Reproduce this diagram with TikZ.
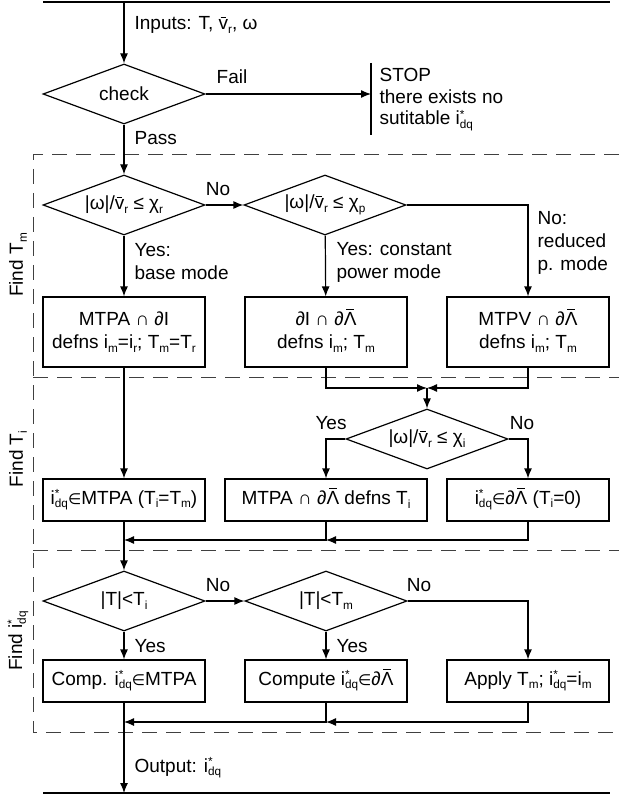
\documentclass[tikz,border=0pt]{standalone}
\usepackage{fontspec}
\usepackage{graphicx}
\setmainfont{Liberation Sans}
\newfontfamily\djv{DejaVu Sans}
\usetikzlibrary{shapes.geometric,arrows.meta}
\newcommand\sbs[1]{\raisebox{-0.2em}{\scalebox{0.62}{#1}}}
\newcommand\idq{i\rlap{\raisebox{0.34em}{\scalebox{0.62}{*}}}\sbs{dq}}
\newcommand\ein{{\djv\scalebox{0.8}{∈}}}
\newcommand\vbar{\leavevmode\hbox{\ooalign{v\cr\hidewidth\rule[0.63em]{0.3em}{0.055em}\hidewidth\cr}}}
\newcommand\Lbar{\leavevmode\hbox{\ooalign{Λ\cr\hidewidth\rule[0.82em]{0.4em}{0.055em}\hidewidth\cr}}}
\newcommand\cond[1]{|ω|/\vbar\sbs{r} ≤ χ\sbs{#1}}
\newcommand\F{\fontsize{19}{23}\selectfont}
\begin{document}
\begin{tikzpicture}[x=1pt,y=-1pt,line width=1.2pt,
  arr/.style={-{Latex[length=10pt,width=8pt]}},
  dia/.style={draw,diamond,minimum width=162pt,minimum height=60pt,inner sep=0pt,aspect=2.7,font=\F},
  box/.style={draw,rectangle,minimum width=162pt,minimum height=42pt,inner sep=1pt,align=center,font=\F},
  lbl/.style={inner sep=0pt,font=\F},
  dsh/.style={line width=1pt,draw=black!75,dash pattern=on 15pt off 9pt}]
\useasboundingbox (0,0) rectangle (619,799);
% top / bottom rails
\coordinate (tl) at (43,2); \coordinate (tr) at (610,2); \coordinate (top) at (124,2);
\coordinate (bl) at (43,793); \coordinate (br) at (610,793); \coordinate (bot) at (124,793);
\draw (tl) -- (tr);
\draw (bl) -- (br);
% dashed frames
\draw[dsh] (619,155) -- (33,155) -- (33,732) -- (619,732);
\draw[dsh] (33,377) -- (619,377);
\draw[dsh] (33,550) -- (619,550);
% check
\node[dia] (chk) at (124,94) {check};
\draw[arr] (top) -- (chk);
\node[lbl,anchor=west] (inp) at (134,25) {Inputs: T, \vbar\sbs{r}, ω};
\coordinate (s1) at (371,63); \coordinate (s2) at (371,135);
\draw (s1) -- (s2);
\draw[arr] (chk.east) -- (chk.east -| s1);
\node[lbl] (fail) at (232,77) {Fail};
\node[lbl,anchor=north west,align=left,font=\fontsize{19}{21.5}\selectfont] (stop) at (379,68) {STOP\\there exists no\\sutitable \idq};
\node[lbl,anchor=west] (pass) at (134,138) {Pass};
% Find labels
\node[lbl,rotate=90] (f1) at (18,265) {Find T\sbs{m}};
\node[lbl,rotate=90] (f2) at (18,459) {Find T\sbs{i}};
\node[lbl,rotate=90] (f3) at (18,641) {Find \idq};
% row 1
\node[dia] (d1) at (124,205) {\cond{r}};
\node[dia] (d2) at (325,205) {\cond{p}};
\draw[arr] (chk) -- (d1);
\draw[arr] (d1) -- (d2);
\node[lbl] (no1) at (218,189) {No};
\node[box,minimum height=70pt] (b1) at (124,332) {MTPA ∩ ∂I\\defns i\sbs{m}=i\sbs{r}; T\sbs{m}=T\sbs{r}};
\node[box,minimum height=70pt] (b2) at (326,332) {∂I ∩ ∂\Lbar\\defns i\sbs{m}; T\sbs{m}};
\node[box,minimum height=70pt] (b3) at (528,332) {MTPV ∩ ∂\Lbar\\defns i\sbs{m}; T\sbs{m}};
\draw[arr] (d1) -- (b1);
\draw[arr] (d2) -- (b2);
\draw[arr] (d2.east) -| (b3.north);
\node[lbl,anchor=west,align=left] (y1) at (134,262) {Yes:\\base mode};
\node[lbl,anchor=west,align=left] (y2) at (336,262) {Yes: constant\\power mode};
\node[lbl,anchor=west,align=left] (n2) at (537,243) {No:\\reduced\\p. mode};
% row 2
\coordinate (m1) at (427,388);
\draw[arr] (b2.south) |- (m1);
\draw[arr] (b3.south) |- (m1);
\node[dia] (d3) at (427,439) {\cond{i}};
\draw[arr] (m1) -- (d3);
\node[lbl] (y3) at (331,423) {Yes};
\node[lbl] (n3) at (522,423) {No};
\node[box] (b4) at (124,500) {\idq\ein MTPA (T\sbs{i}=T\sbs{m})};
\node[box,minimum width=202pt] (b5) at (326,500) {MTPA ∩ ∂\Lbar\ defns T\sbs{i}};
\node[box] (b6) at (528,500) {\idq\ein ∂\Lbar\ (T\sbs{i}=0)};
\draw[arr] (b1) -- (b4);
\draw[arr] (d3.west) -| (b5.north);
\draw[arr] (d3.east) -| (b6.north);
\coordinate (m2) at (326,540); \coordinate (m3) at (124,540);
\draw[arr] (b6.south) |- (m2);
\draw[arr] (b5.south) |- (m3);
% row 3
\node[dia] (d4) at (124,601) {|T|<T\sbs{i}};
\node[dia] (d5) at (326,601) {|T|<T\sbs{m}};
\draw[arr] (b4) -- (d4);
\draw[arr] (d4) -- (d5);
\node[lbl] (n4) at (218,585) {No};
\node[lbl] (n5) at (419,585) {No};
\node[box] (b7) at (124,681) {Comp. \idq\ein MTPA};
\node[box] (b8) at (326,681) {Compute \idq\ein ∂\Lbar};
\node[box] (b9) at (528,681) {Apply T\sbs{m}; \idq=i\sbs{m}};
\draw[arr] (d4) -- (b7);
\draw[arr] (d5) -- (b8);
\draw[arr] (d5.east) -| (b9.north);
\node[lbl,anchor=west] (y4) at (134,646) {Yes};
\node[lbl,anchor=west] (y5) at (336,646) {Yes};
\coordinate (m4) at (326,722); \coordinate (m5) at (124,722);
\draw[arr] (b9.south) |- (m4);
\draw[arr] (b8.south) |- (m5);
\draw[arr] (b7) -- (bot);
\node[lbl,anchor=west] (out) at (134,768) {Output: \idq};
\end{tikzpicture}
\end{document}
